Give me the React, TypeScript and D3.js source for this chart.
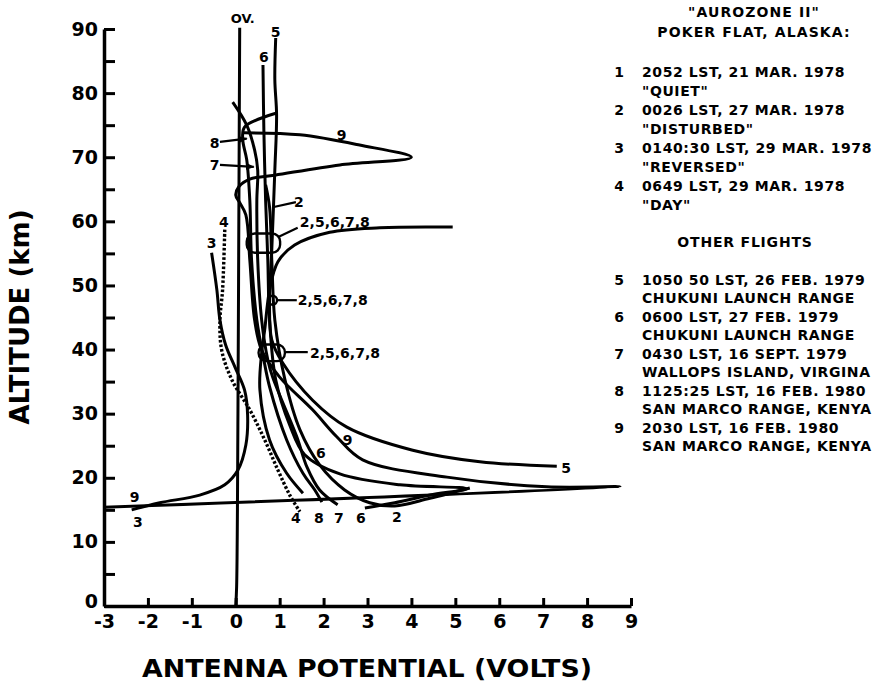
import React, { useEffect, useRef } from 'react';
import * as d3 from 'd3';

type Pt = [number, number]; // [volts, km]

const xTicks = [-3, -2, -1, 0, 1, 2, 3, 4, 5, 6, 7, 8, 9];
const yTicks = [0, 5, 10, 15, 20, 25, 30, 35, 40, 45, 50, 55, 60, 65, 70, 75, 80, 85, 90];

// traces, [antenna potential (V), altitude (km)]
const overVolt: Pt[] = [[0.09, 90.2], [0.07, 60], [0.05, 30], [0.02, 3], [0, 0]];
const flight1: Pt[] = [[4.94, 59.1], [3.28, 59], [2.14, 58.3], [1.34, 56.3], [0.96, 53.7], [0.77, 49.3], [0.66, 43.1], [0.59, 39.5], [0.55, 33.7], [0.77, 25.9], [1.16, 20.7], [1.53, 17.6]];
const flight2: Pt[] = [[0.68, 65.7], [0.77, 62.2], [0.82, 54], [0.89, 44.6], [1.12, 35.3], [1.46, 27.5], [1.91, 22], [2.48, 18.1], [3.05, 16.1], [3.62, 15.6], [4.42, 16.8], [5.33, 18.4]];
const flight3: Pt[] = [[-0.55, 55.1], [-0.43, 49.3], [-0.36, 44.6], [-0.23, 40.7], [-0.02, 37.3], [0.2, 33.7], [0.27, 29.8], [0.23, 25.1], [0.05, 21.2], [-0.25, 18.9], [-0.82, 17.3], [-1.73, 16.1], [-2.37, 15]];
const flight4: Pt[] = [[-0.25, 58.7], [-0.3, 49.3], [-0.36, 44.6], [-0.32, 39.9], [-0.09, 35.3], [0.32, 30.6], [0.66, 25.9], [0.96, 21.2], [1.23, 17.3], [1.46, 14.7]];
const flight5: Pt[] = [[0.91, 88.6], [0.89, 82.1], [0.93, 76.6], [0.89, 68], [0.82, 55.5], [0.77, 47.7], [0.82, 41.5], [1.07, 37.9], [1.75, 32.1], [2.53, 27.9], [4.03, 24.3], [5.56, 22.5], [7.31, 21.8]];
const flight6: Pt[] = [[0.62, 84.4], [0.64, 74.3], [0.68, 63.3], [0.73, 54], [0.77, 44.6], [0.91, 35.3], [1.23, 28.2], [1.57, 23.6], [2.37, 20.6], [3.74, 18.9], [5.26, 18.3], [4.42, 17.3], [3.62, 16.1], [2.94, 15.3]];
const flight7: Pt[] = [[-0.07, 78.6], [0.25, 75], [0.43, 71.1], [0.5, 68], [0.48, 63.2], [0.5, 54], [0.59, 44.6], [0.73, 38.4], [0.84, 35.7], [1.39, 26.4], [1.62, 21.7], [1.91, 18.1], [2.32, 15.8]];
const flight8: Pt[] = [[0.93, 76.9], [0.2, 74.7], [0.16, 72.7], [0.25, 69.6], [0.32, 63.3], [0.36, 54], [0.48, 44.6], [0.64, 38.4], [0.77, 34.2], [1.16, 25.9], [1.53, 20.7], [1.8, 18.1], [1.96, 16.2]];
const flight9: Pt[] = [[0.16, 73.8], [1.46, 73.5], [2.82, 71.9], [4.0, 70], [2.37, 68.8], [0.89, 67.2], [0.32, 66.6], [0.07, 65.4], [0, 64.1], [0.09, 62.9], [0.23, 61], [0.32, 54], [0.43, 44.6], [0.59, 39.9], [1.0, 35.7], [1.75, 30.6], [2.3, 26.4], [2.89, 22.8], [4.81, 20.1], [7.08, 18.6], [8.75, 18.6], [-3.0, 15.4]];

const solidTraces = [overVolt, flight1, flight2, flight3, flight5, flight6, flight7, flight8, flight9];

// labels on the traces: [volts, km, text, anchor]
const traceLabels: [number, number, string, string][] = [
  [0.16, 90.9, 'OV.', 'middle'],
  [0.91, 88.8, '5', 'middle'],
  [0.64, 84.9, '6', 'middle'],
  [-0.48, 71.5, '8', 'middle'],
  [-0.48, 68.0, '7', 'middle'],
  [2.41, 72.7, '9', 'middle'],
  [1.44, 62.2, '2', 'middle'],
  [1.46, 59.1, '2,5,6,7,8', 'start'],
  [1.41, 47.0, '2,5,6,7,8', 'start'],
  [1.69, 38.7, '2,5,6,7,8', 'start'],
  [-0.55, 55.9, '3', 'middle'],
  [-0.27, 59.1, '4', 'middle'],
  [-2.3, 16.2, '9', 'middle'],
  [-2.23, 12.3, '3', 'middle'],
  [1.37, 12.9, '4', 'middle'],
  [1.89, 12.9, '8', 'middle'],
  [2.35, 12.9, '7', 'middle'],
  [2.85, 12.9, '6', 'middle'],
  [3.67, 13.1, '2', 'middle'],
  [1.94, 23.1, '6', 'middle'],
  [2.55, 25.1, '9', 'middle'],
  [7.52, 20.7, '5', 'middle'],
];

// leader lines: from, to, arrow
const leaders: [Pt, Pt, boolean][] = [
  [[-0.36, 72.4], [0.25, 72.9], true],
  [[-0.36, 68.8], [0.41, 68.5], true],
  [[1.37, 63], [0.84, 62.2], false],
  [[1.41, 59], [0.98, 57.6], false],
  [[0.96, 47.7], [1.39, 47.7], false],
  [[1.14, 39.6], [1.64, 39.6], false],
];

// bundle markers: centre volts, centre km, half-width volts, half-height km
const bundles: [number, number, number, number][] = [
  [0.63, 56.6, 0.38, 1.5],
  [0.82, 39.5, 0.3, 1.3],
  [0.84, 47.7, 0.1, 0.7],
];

const aurozoneHead = ['"AUROZONE II"', 'POKER FLAT, ALASKA:'];
const aurozoneFlights = [
  ['1', '2052 LST, 21 MAR. 1978', '"QUIET"'],
  ['2', '0026 LST, 27 MAR. 1978', '"DISTURBED"'],
  ['3', '0140:30 LST, 29 MAR. 1978', '"REVERSED"'],
  ['4', '0649 LST, 29 MAR. 1978', '"DAY"'],
];
const otherHead = 'OTHER FLIGHTS';
const otherFlights = [
  ['5', '1050 50 LST, 26 FEB. 1979', 'CHUKUNI LAUNCH RANGE'],
  ['6', '0600 LST, 27 FEB. 1979', 'CHUKUNI LAUNCH RANGE'],
  ['7', '0430 LST, 16 SEPT. 1979', 'WALLOPS ISLAND, VIRGINA'],
  ['8', '1125:25 LST, 16 FEB. 1980', 'SAN MARCO RANGE, KENYA'],
  ['9', '2030 LST, 16 FEB. 1980', 'SAN MARCO RANGE, KENYA'],
];

const FONT = '"DejaVu Sans", sans-serif';

const App = () => {
  const ref = useRef<SVGSVGElement>(null);

  useEffect(() => {
    const svg = d3.select(ref.current);
    svg.selectAll('*').remove();

    const width = 884, height = 684;
    svg.attr('width', width).attr('height', height);
    svg.append('rect').attr('width', width).attr('height', height).attr('fill', '#fff');

    const x = d3.scaleLinear().domain([-3, 9]).range([104, 631]);
    const y = d3.scaleLinear().domain([0, 90]).range([606, 29]);

    svg.append('defs').append('marker')
      .attr('id', 'arrow')
      .attr('viewBox', '0 0 10 10')
      .attr('refX', 9).attr('refY', 5)
      .attr('markerWidth', 4).attr('markerHeight', 4)
      .attr('orient', 'auto')
      .append('path').attr('d', 'M0,1L10,5L0,9Z').attr('fill', '#000');

    // axes
    const xAxis = svg.append('g')
      .attr('transform', `translate(0,${y(0)})`)
      .call(d3.axisBottom(x).tickValues(xTicks).tickFormat(d => String(d)).tickSizeInner(-8).tickSizeOuter(0).tickPadding(9));
    const yAxis = svg.append('g')
      .attr('transform', `translate(${x(-3)},0)`)
      .call(d3.axisLeft(y).tickValues(yTicks).tickFormat(d => (+d % 10 === 0 ? String(d) : '')).tickSizeInner(-11).tickSizeOuter(0).tickPadding(6));
    [xAxis, yAxis].forEach(g => {
      g.selectAll('path, line').attr('stroke', '#000').attr('stroke-width', 3);
      g.selectAll('text')
        .attr('fill', '#000')
        .attr('font-family', FONT)
        .attr('font-weight', 'bold')
        .attr('font-size', 19);
    });
    xAxis.select('.domain').attr('stroke-width', 3.5);
    yAxis.select('.domain').attr('stroke-width', 3.5);
    yAxis.selectAll('.tick text').filter(d => d === 0).attr('dy', '0.1em');

    // traces
    const line = d3.line<Pt>()
      .x(d => x(d[0]))
      .y(d => y(d[1]))
      .curve(d3.curveCatmullRom.alpha(0.5));

    svg.append('g')
      .selectAll('path')
      .data(solidTraces)
      .join('path')
      .attr('d', d => line(d))
      .attr('fill', 'none')
      .attr('stroke', '#000')
      .attr('stroke-width', 3)
      .attr('stroke-linejoin', 'round');

    svg.append('path')
      .datum(flight4)
      .attr('d', line)
      .attr('fill', 'none')
      .attr('stroke', '#000')
      .attr('stroke-width', 3.4)
      .attr('stroke-dasharray', '2.6,2');

    // bundle markers
    svg.append('g')
      .selectAll('rect')
      .data(bundles)
      .join('rect')
      .attr('x', d => x(d[0] - d[2]))
      .attr('y', d => y(d[1] + d[3]))
      .attr('width', d => x(d[0] + d[2]) - x(d[0] - d[2]))
      .attr('height', d => y(d[1] - d[3]) - y(d[1] + d[3]))
      .attr('rx', d => Math.min(8, (x(d[0] + d[2]) - x(d[0] - d[2])) / 2))
      .attr('fill', 'none')
      .attr('stroke', '#000')
      .attr('stroke-width', 2.4);

    // leaders
    svg.append('g')
      .selectAll('line')
      .data(leaders)
      .join('line')
      .attr('x1', d => x(d[0][0])).attr('y1', d => y(d[0][1]))
      .attr('x2', d => x(d[1][0])).attr('y2', d => y(d[1][1]))
      .attr('stroke', '#000')
      .attr('stroke-width', 2.2)
      .attr('marker-end', d => (d[2] ? 'url(#arrow)' : null));

    svg.append('g')
      .selectAll('text')
      .data(traceLabels)
      .join('text')
      .attr('x', d => x(d[0]))
      .attr('y', d => y(d[1]))
      .attr('text-anchor', d => d[3])
      .attr('font-family', FONT)
      .attr('font-weight', 'bold')
      .attr('font-size', d => (d[2] === 'OV.' ? 13 : 14))
      .attr('fill', '#000')
      .text(d => d[2]);

    // axis titles
    svg.append('text')
      .attr('x', 367).attr('y', 677)
      .attr('text-anchor', 'middle')
      .attr('font-family', FONT)
      .attr('font-weight', 'bold')
      .attr('font-size', 24)
      .attr('textLength', 450)
      .attr('lengthAdjust', 'spacingAndGlyphs')
      .text('ANTENNA POTENTIAL (VOLTS)');

    svg.append('text')
      .attr('transform', 'translate(29,317) rotate(-90)')
      .attr('text-anchor', 'middle')
      .attr('font-family', FONT)
      .attr('font-weight', 'bold')
      .attr('font-size', 26)
      .attr('textLength', 215)
      .attr('lengthAdjust', 'spacingAndGlyphs')
      .text('ALTITUDE (km)');

    // legend
    const lg = svg.append('g')
      .attr('font-family', FONT)
      .attr('font-weight', 'bold')
      .attr('font-size', 14)
      .attr('fill', '#000');

    aurozoneHead.forEach((t, i) => {
      lg.append('text').attr('x', 754).attr('y', 17 + i * 20)
        .attr('text-anchor', 'middle').attr('letter-spacing', 1.1).text(t);
    });
    aurozoneFlights.forEach((f, i) => {
      const base = 77 + i * 38;
      lg.append('text').attr('x', 619).attr('y', base).attr('text-anchor', 'middle').text(f[0]);
      lg.append('text').attr('x', 642).attr('y', base).attr('letter-spacing', 0.6).text(f[1]);
      lg.append('text').attr('x', 642).attr('y', base + 19).attr('letter-spacing', 0.6).text(f[2]);
    });
    lg.append('text').attr('x', 745).attr('y', 247)
      .attr('text-anchor', 'middle').attr('letter-spacing', 0.8).text(otherHead);
    otherFlights.forEach((f, i) => {
      const base = 285 + i * 37;
      lg.append('text').attr('x', 619).attr('y', base).attr('text-anchor', 'middle').text(f[0]);
      lg.append('text').attr('x', 642).attr('y', base).attr('letter-spacing', 0.6).text(f[1]);
      lg.append('text').attr('x', 642).attr('y', base + 18).attr('letter-spacing', 0.6).text(f[2]);
    });
  }, []);

  return <svg ref={ref} style={{ position: 'absolute', left: 0, top: 0 }}></svg>;
};

export default App;
